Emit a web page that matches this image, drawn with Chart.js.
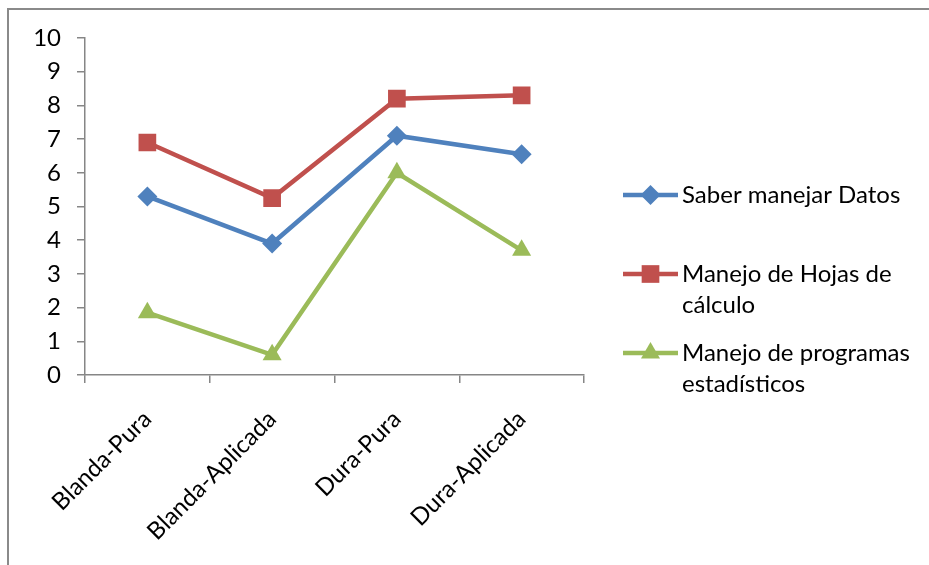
<!DOCTYPE html>
<html>
<head>
<meta charset="utf-8">
<script src="https://cdn.jsdelivr.net/npm/chart.js@4/dist/chart.umd.min.js"></script>
<style>
  html, body { margin: 0; padding: 0; background: #fff; }
  #wrap { position: relative; width: 929px; height: 565px; }
</style>
</head>
<body>
<div id="wrap"><canvas id="c" width="929" height="565"></canvas></div>
<script>
// Categories along the x axis
const categories = ['Blanda-Pura', 'Blanda-Aplicada', 'Dura-Pura', 'Dura-Aplicada'];

// Series values
const saberManejarDatos = [5.3, 3.9, 7.1, 6.55];
const manejoHojasCalculo = [6.9, 5.25, 8.2, 8.3];
const manejoProgramasEstadisticos = [1.85, 0.6, 6.0, 3.7];

// Series names (legend entries, wrapped over lines)
const seriesNames = [
  ['Saber manejar Datos'],
  ['Manejo de Hojas de', 'cálculo'],
  ['Manejo de programas', 'estadísticos']
];

// Y axis range
const yMin = 0, yMax = 10, yStep = 1;

const FONT = 'Lato, "Open Sans", sans-serif';
const AXIS = '#868686';
const COLORS = ['#4F81BD', '#C0504D', '#9BBB59'];
const STYLES = ['rectRot', 'rect', 'triangle'];
const RADII = [10, 12.5, 11];

function drawMarker(ctx, style, x, y, r, color) {
  ctx.save();
  ctx.fillStyle = color;
  ctx.beginPath();
  if (style === 'rectRot') {
    ctx.moveTo(x, y - r); ctx.lineTo(x + r, y); ctx.lineTo(x, y + r); ctx.lineTo(x - r, y);
  } else if (style === 'rect') {
    const s = r * Math.SQRT1_2;
    ctx.rect(x - s, y - s, 2 * s, 2 * s);
  } else {
    const h = r * Math.cos(Math.PI / 6);
    ctx.moveTo(x, y - r); ctx.lineTo(x + h, y + r / 2); ctx.lineTo(x - h, y + r / 2);
  }
  ctx.closePath();
  ctx.fill();
  ctx.restore();
}

// Outer frame and side legend
const framePlugin = {
  id: 'frame',
  beforeDraw(chart) {
    const ctx = chart.ctx;
    ctx.save();
    ctx.strokeStyle = '#8a8a8a';
    ctx.lineWidth = 2;
    ctx.strokeRect(8, 9, 1000, 1000);
    ctx.restore();
  },
  afterDraw(chart) {
    const ctx = chart.ctx;
    const x0 = 623, x1 = 678, tx = 682, lh = 31;
    const rows = [195, 274, 353];
    ctx.save();
    ctx.font = '24px ' + FONT;
    ctx.fillStyle = '#000';
    ctx.textBaseline = 'middle';
    ctx.textAlign = 'left';
    chart.data.datasets.forEach((ds, i) => {
      const y = rows[i];
      ctx.strokeStyle = ds.borderColor;
      ctx.lineWidth = 4.5;
      ctx.beginPath(); ctx.moveTo(x0, y); ctx.lineTo(x1, y); ctx.stroke();
      drawMarker(ctx, ds.pointStyle, (x0 + x1) / 2, y, ds.pointRadius, ds.borderColor);
      const lines = Array.isArray(ds.label) ? ds.label : [ds.label];
      lines.forEach((t, k) => ctx.fillText(t, tx, y + k * lh));
    });
    ctx.restore();
  }
};

const seriesData = [saberManejarDatos, manejoHojasCalculo, manejoProgramasEstadisticos];

new Chart(document.getElementById('c'), {
  type: 'line',
  data: {
    labels: categories,
    datasets: seriesData.map((d, i) => ({
      label: seriesNames[i],
      data: d,
      borderColor: COLORS[i],
      backgroundColor: COLORS[i],
      pointBackgroundColor: COLORS[i],
      pointBorderColor: COLORS[i],
      borderWidth: 4.5,
      pointStyle: STYLES[i],
      pointRadius: RADII[i],
      pointBorderWidth: 0,
      tension: 0,
      fill: false
    }))
  },
  options: {
    responsive: false,
    animation: false,
    events: [],
    layout: { padding: { left: 0, right: 345, top: 38, bottom: 0 } },
    plugins: { legend: { display: false }, tooltip: { enabled: false } },
    scales: {
      x: {
        offset: true,
        grid: { offset: true, drawOnChartArea: false, drawTicks: true, tickLength: 8, color: AXIS, lineWidth: 1.5 },
        border: { display: true, color: AXIS, width: 1.5 },
        ticks: { color: '#000', font: { family: FONT, size: 24 }, minRotation: 45, maxRotation: 45, padding: 22, labelOffset: 0 },
        afterFit(scale) { scale.height = 190; }
      },
      y: {
        min: yMin, max: yMax,
        grid: { drawOnChartArea: false, drawTicks: true, tickLength: 8, color: AXIS, lineWidth: 1.5 },
        border: { display: true, color: AXIS, width: 1.5 },
        ticks: { stepSize: yStep, color: '#000', font: { family: FONT, size: 24 }, padding: 16 },
        afterFit(scale) { scale.width = 85; }
      }
    }
  },
  plugins: [framePlugin]
});
</script>
</body>
</html>
